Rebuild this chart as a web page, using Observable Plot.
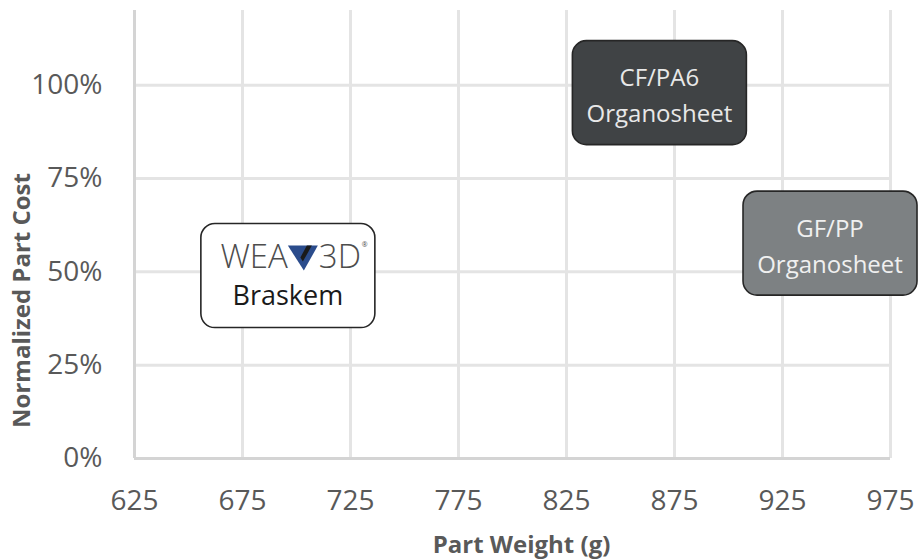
<!DOCTYPE html>
<html>
<head>
<meta charset="utf-8">
<script src="https://cdn.jsdelivr.net/npm/d3@7"></script>
<script src="https://cdn.jsdelivr.net/npm/@observablehq/plot@0.6"></script>
<style>
  html, body { margin: 0; padding: 0; background: #ffffff; }
  #chart svg { display: block; }
</style>
</head>
<body>
<div id="chart"></div>
<script>
// ---- data ----
const materials = ["WEAV3D Braskem", "CF/PA6 Organosheet", "GF/PP Organosheet"];
const boxLabels = ["Braskem", "CF/PA6\nOrganosheet", "GF/PP\nOrganosheet"];
const partWeight = [696, 868, 947];      // g
const partCost = [0.49, 0.98, 0.577];    // normalized
const xTicks = [625, 675, 725, 775, 825, 875, 925, 975];
const yTicks = [0, 0.25, 0.5, 0.75, 1];
const xTitle = "Part Weight (g)";
const yTitle = "Normalized Part Cost";

// ---- styles ----
const boxFill = ["#ffffff", "#404345", "#7d8183"];
const boxTextColor = ["#1a1a1a", "#e8e8e8", "#f0f0f0"];

const rows = materials.map((m, i) => ({
  name: m, label: boxLabels[i], x: partWeight[i], y: partCost[i],
  fill: boxFill[i], text: boxTextColor[i]
}));
const logo = rows.filter(d => d.name.startsWith("WEAV3D"));
const others = rows.filter(d => !d.name.startsWith("WEAV3D"));

// rounded rectangle symbol (fixed pixel size)
const roundBox = {
  draw(ctx) {
    const w = 87, h = 52, r = 14;
    ctx.moveTo(-w + r, -h);
    ctx.lineTo(w - r, -h);
    ctx.arcTo(w, -h, w, -h + r, r);
    ctx.lineTo(w, h - r);
    ctx.arcTo(w, h, w - r, h, r);
    ctx.lineTo(-w + r, h);
    ctx.arcTo(-w, h, -w, h - r, r);
    ctx.lineTo(-w, -h + r);
    ctx.arcTo(-w, -h, -w + r, -h, r);
    ctx.closePath();
  }
};
// downward triangle of the logo
const vTri = {
  draw(ctx) {
    ctx.moveTo(-15, -12);
    ctx.lineTo(15, -12);
    ctx.lineTo(1, 13);
    ctx.closePath();
  }
};
const vStripe = {
  draw(ctx) {
    ctx.moveTo(4, -12);
    ctx.lineTo(9, -12);
    ctx.lineTo(0, 4);
    ctx.lineTo(-2.5, 0);
    ctx.closePath();
  }
};

const chart = Plot.plot({
  width: 919,
  height: 560,
  marginLeft: 134,
  marginRight: 29,
  marginTop: 10,
  marginBottom: 102,
  style: { fontFamily: "'Open Sans', sans-serif", background: "#ffffff", overflow: "visible" },
  x: { domain: [625, 975] },
  y: { domain: [0, 1.2] },
  color: { type: "identity" },
  marks: [
    Plot.gridX(xTicks, { stroke: "#e4e4e4", strokeOpacity: 1, strokeWidth: 3 }),
    Plot.gridY(yTicks, { stroke: "#e4e4e4", strokeOpacity: 1, strokeWidth: 3 }),
    Plot.ruleX([625], { stroke: "#d4d4d4", strokeWidth: 3 }),
    Plot.ruleY([0], { stroke: "#d4d4d4", strokeWidth: 3 }),
    Plot.axisX(xTicks, { tickSize: 0, tickPadding: 32, fontSize: 28, fill: "#595959", label: null }),
    Plot.axisY(yTicks, { tickSize: 0, tickPadding: 32, fontSize: 28, fill: "#595959", label: null,
      tickFormat: d3.format(".0%") }),
    Plot.text([xTitle], { frameAnchor: "bottom", textAnchor: "middle", dx: 9, dy: 77, lineAnchor: "top",
      fontSize: 24, fontWeight: 700, fill: "#595959" }),
    Plot.text([yTitle], { frameAnchor: "left", textAnchor: "middle", rotate: -90, dx: -112, dy: 66,
      lineAnchor: "middle", fontSize: 24, fontWeight: 700, fill: "#595959" }),
    // boxes
    Plot.dot(rows, { x: "x", y: "y", symbol: roundBox, r: 10, fill: "fill", stroke: "#262626",
      strokeWidth: 1.6 }),
    // box labels
    Plot.text(others, { x: "x", y: "y", text: "label", fill: "text", fontSize: 24, lineHeight: 1.5 }),
    Plot.text(logo, { x: "x", y: "y", text: "label", fill: "text", fontSize: 27, dy: 21 }),
    // WEAV3D logo line
    Plot.text(logo, { x: "x", y: "y", text: () => "WEA", textAnchor: "end", dx: 0, dy: -18,
      fontSize: 33, fontWeight: 300, fill: "#4d4d4d" }),
    Plot.dot(logo, { x: "x", y: "y", symbol: vTri, r: 10, dx: 15, dy: -18, fill: "#2b4c8c", stroke: "none" }),
    Plot.dot(logo, { x: "x", y: "y", symbol: vStripe, r: 10, dx: 15, dy: -18, fill: "#1a1a1a", stroke: "none" }),
    Plot.text(logo, { x: "x", y: "y", text: () => "3D", textAnchor: "start", dx: 31, dy: -18,
      fontSize: 33, fontWeight: 300, fill: "#4d4d4d" }),
    Plot.text(logo, { x: "x", y: "y", text: () => "®", textAnchor: "start", dx: 74, dy: -31,
      fontSize: 7, fill: "#4d4d4d" })
  ]
});

document.getElementById("chart").appendChild(chart);
</script>
</body>
</html>
